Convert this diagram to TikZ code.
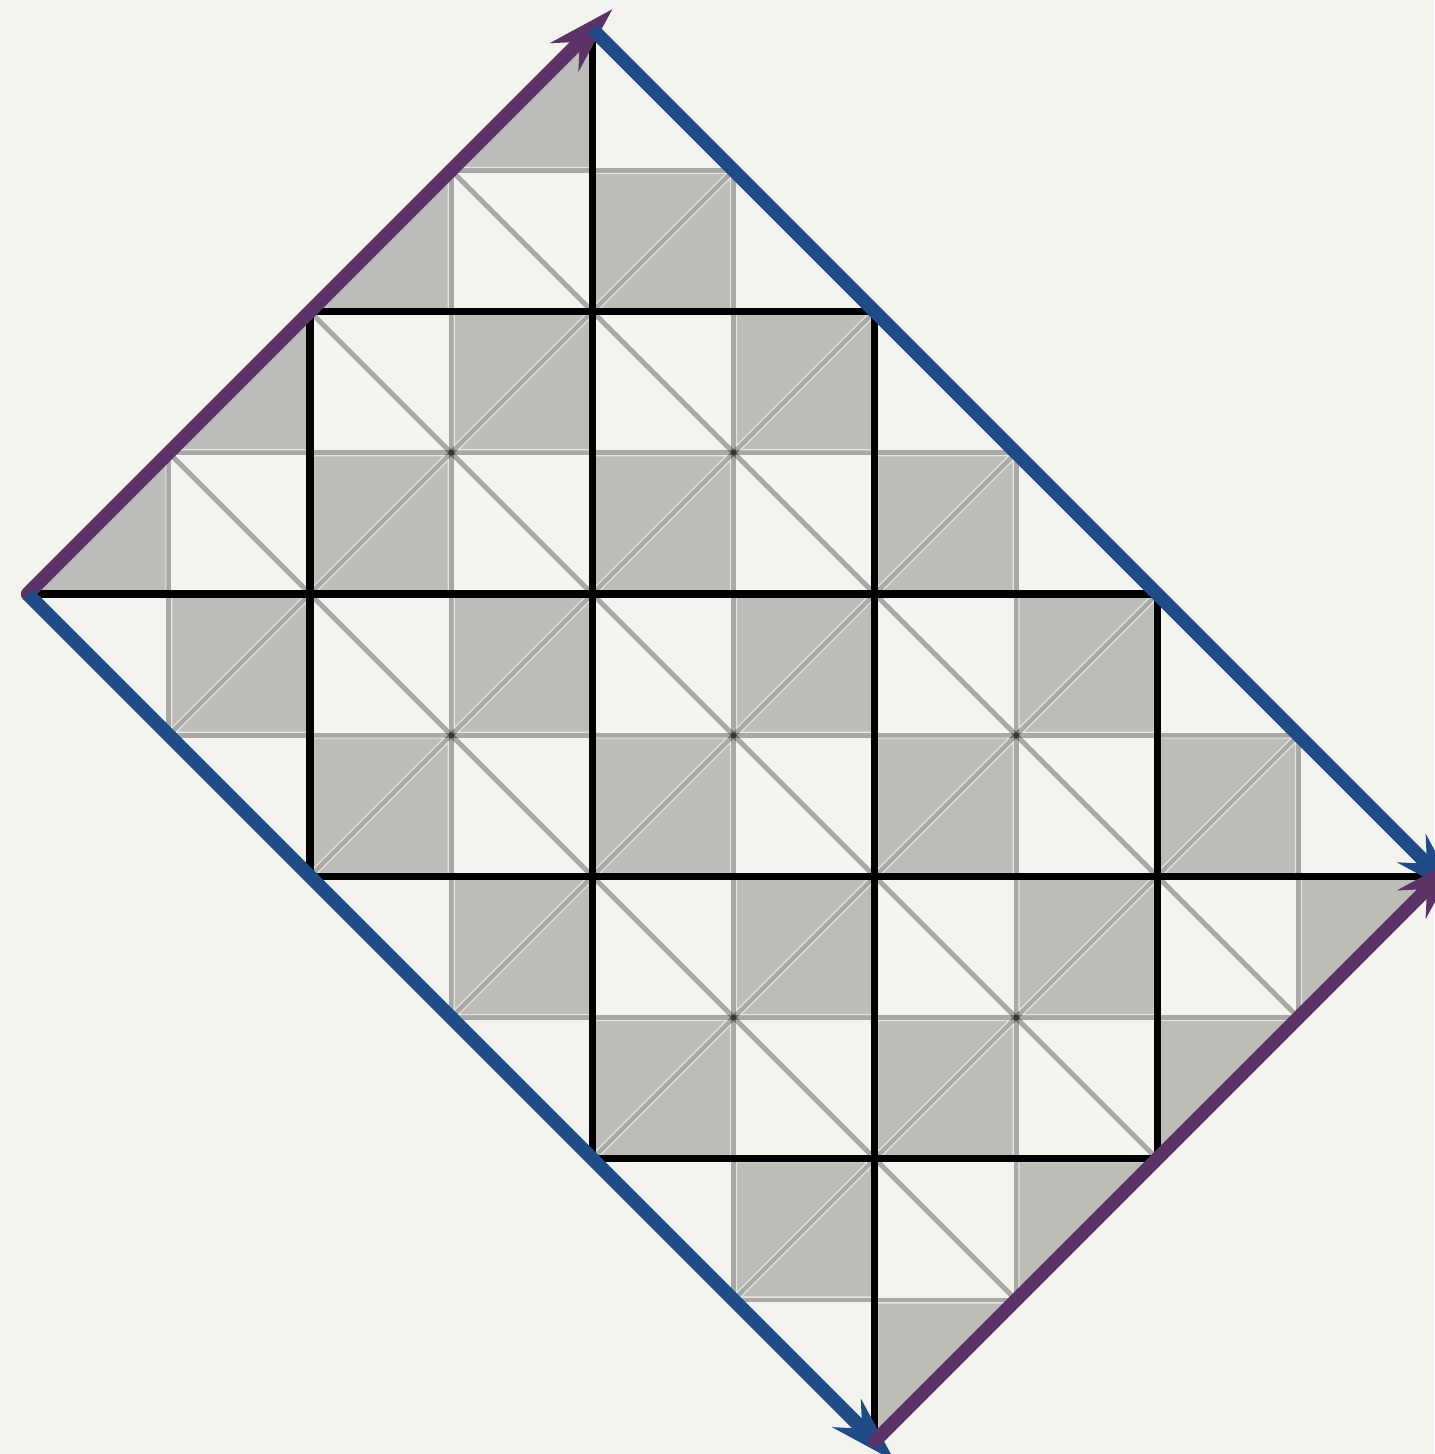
\documentclass[tikz,border=0pt]{standalone}
\usetikzlibrary{arrows.meta}
\definecolor{bgc}{HTML}{F4F4EE}
\definecolor{cellgray}{HTML}{BBBDB6}
\definecolor{cellrim}{HTML}{E4E4DE}
\definecolor{edgepurple}{HTML}{5B3366}
\definecolor{edgeblue}{HTML}{1F4B87}
\begin{document}
\begin{tikzpicture}[
  halfline/.style={draw=black, draw opacity=0.31, line width=1.0pt},
  gridline/.style={draw=black, line width=1.45pt},
  celltri/.style={fill=cellgray, draw=cellrim, line width=0.22pt},
  edgeline/.style={line width=2.75pt},
  tipped/.style={-{Stealth[length=13.8pt,width=8.2pt,inset=4.5pt,line width=0pt]}, shorten >=-0.2cm},
]
\useasboundingbox[fill=bgc] (-0.1955,-6.0906) rectangle (9.9603,4.2068);
\coordinate (L) at (0,0);
\coordinate (T) at (4,4);
\coordinate (R) at (10,-2);
\coordinate (B) at (6,-6);
\begin{scope}
\clip (L) -- (T) -- (R) -- (B) -- cycle;
% half-grid lines
\foreach \k in {1,3,5,7,9} \draw[halfline] (\k,-7) -- (\k,5);
\foreach \k in {3,1,-1,-3,-5} \draw[halfline] (-1,\k) -- (11,\k);
% diagonals x+y=c
\foreach \c in {2,4,6} \draw[halfline] (\c+7,-7) -- (\c-5,5);
% diagonals y-x=c
\foreach \c in {-2,-4,-6,-8,-10} \draw[halfline] (-1,\c-1) -- (11,\c+11);
% shaded cells
\pgfmathsetmacro{\dd}{0.0212}
\pgfmathsetmacro{\ee}{0.0212*2.41421}
\foreach \i in {0,...,9} {
  \foreach \j in {-6,...,3} {
    \ifodd\numexpr\i+\j+100\relax\else
      \path[celltri] (\i+\ee,\j+\dd) -- (\i+1-\dd,\j+\dd) -- (\i+1-\dd,\j+1-\ee) -- cycle;
      \path[celltri] (\i+\dd,\j+\ee) -- (\i+\dd,\j+1-\dd) -- (\i+1-\ee,\j+1-\dd) -- cycle;
    \fi
  }
}
% main grid
\foreach \k in {2,4,6,8} \draw[gridline] (\k,-7) -- (\k,5);
\foreach \k in {2,0,-2,-4} \draw[gridline] (-1,\k) -- (11,\k);
\end{scope}
\draw[edgeline, edgepurple, line cap=round, tipped] (L) -- (T);
\draw[edgeline, edgeblue, tipped] (L) -- (B);
\draw[edgeline, edgeblue, tipped] (T) -- (R);
\draw[edgeline, edgepurple, line cap=round, tipped] (B) -- (R);
\end{tikzpicture}
\end{document}
